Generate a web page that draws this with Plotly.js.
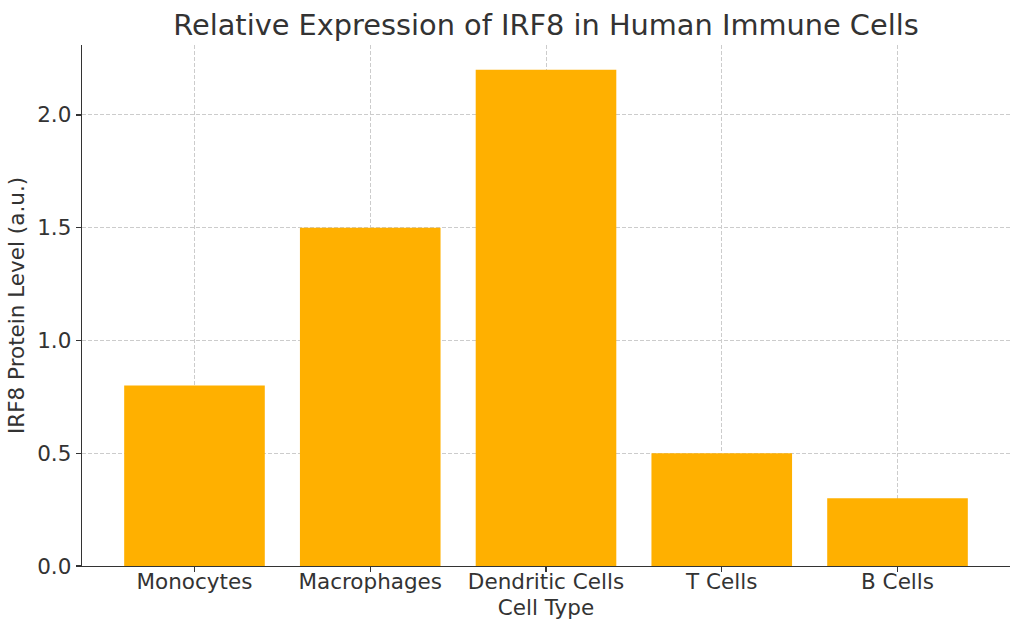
<!DOCTYPE html>
<html>
<head>
<meta charset="utf-8">
<script src="https://cdn.plot.ly/plotly-3.0.1.min.js"></script>
<style>
  html, body { margin: 0; padding: 0; background: #fff; }
  #chart { width: 1024px; height: 635px; }
</style>
</head>
<body>
<div id="chart"></div>
<script>
// data
var cell_types = ['Monocytes', 'Macrophages', 'Dendritic Cells', 'T Cells', 'B Cells']
var irf8_levels = [0.8, 1.5, 2.2, 0.5, 0.3]
var y_ticks = [0.0, 0.5, 1.0, 1.5, 2.0]

var text_col = '#333333'
var grid_col = '#cccccc'

var data = [
    {
        type: 'bar',
        x: cell_types.map(function (c, i) { return i }),
        y: irf8_levels,
        width: 0.8,
        marker: { color: '#ffb000', line: { width: 0 } },
        hoverinfo: 'x+y'
    }
]

var layout = {
    width: 1024,
    height: 635,
    margin: { l: 82, r: 14, t: 45, b: 69 },
    paper_bgcolor: '#ffffff',
    plot_bgcolor: '#ffffff',
    font: { family: 'DejaVu Sans', size: 21.5, color: text_col },
    showlegend: false,
    title: {
        text: 'Relative Expression of IRF8 in Human Immune Cells',
        font: { family: 'DejaVu Sans', size: 28.8, color: text_col },
        xref: 'paper', x: 0.5, xanchor: 'center',
        yref: 'container', y: 1 - 25 / 635, yanchor: 'middle'
    },
    xaxis: {
        range: [-0.64, 4.64],
        tickmode: 'array',
        tickvals: cell_types.map(function (c, i) { return i }),
        ticktext: cell_types,
        ticks: 'outside', ticklen: 5, tickwidth: 1.2, tickcolor: text_col,
        ticklabelstandoff: -9,
        showline: true, linecolor: text_col, linewidth: 1.3, mirror: false,
        showgrid: true, gridcolor: grid_col, gridwidth: 1, griddash: '4px,2px',
        zeroline: false,
        layer: 'above traces',
        title: { text: 'Cell Type', font: { size: 21.5, color: text_col }, standoff: 7 }
    },
    yaxis: {
        range: [0, 2.31],
        tickmode: 'array',
        tickvals: y_ticks,
        ticktext: y_ticks.map(function (v) { return v.toFixed(1) }),
        ticks: 'outside', ticklen: 5, tickwidth: 1.2, tickcolor: text_col,
        showline: true, linecolor: text_col, linewidth: 1.3, mirror: false,
        showgrid: true, gridcolor: grid_col, gridwidth: 1, griddash: '4px,2px',
        zeroline: false,
        layer: 'above traces',
        title: { text: 'IRF8 Protein Level (a.u.)', font: { size: 21.5, color: text_col }, standoff: 6 }
    }
}

Plotly.newPlot('chart', data, layout, { displayModeBar: false, staticPlot: true })
</script>
</body>
</html>
